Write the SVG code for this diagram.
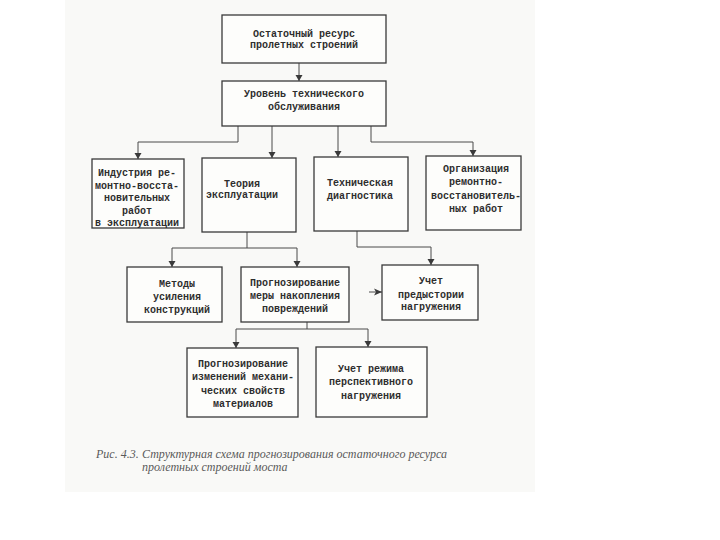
<svg xmlns="http://www.w3.org/2000/svg" width="720" height="540" viewBox="0 0 720 540">
<style>
.box{fill:#fdfdfb;stroke:#3a3a3a;stroke-width:1.3}
.t{font-family:"Liberation Mono","DejaVu Sans Mono",monospace;font-size:10px;font-weight:bold;fill:#2e2e2e;text-anchor:middle}
.c{fill:none;stroke:#4a4a4a;stroke-width:1}
.cap{font-family:"Liberation Serif","DejaVu Serif",serif;font-style:italic;font-size:12px;fill:#5a5a5a}
</style>
<defs>
<marker id="ah" markerUnits="userSpaceOnUse" markerWidth="8" markerHeight="8" viewBox="0 0 8 8" refX="7.5" refY="4" orient="auto">
<path d="M1.5 0.5 L7.5 4 L1.5 7.5 Z" fill="#3a3a3a"/>
</marker>
<marker id="ahr" markerUnits="userSpaceOnUse" markerWidth="10" markerHeight="8" viewBox="0 0 10 8" refX="9" refY="4" orient="auto">
<path d="M1 0.5 L9 4 L1 7.5 L3 4 Z" fill="#3a3a3a"/>
</marker>
</defs>
<rect x="65" y="0" width="470" height="492" fill="#f9f9f7"/>
<g id="connectors">
<path class="c" d="M299 63 V81" marker-end="url(#ah)"/>
<path class="c" d="M238 126 V142 H138 V159" marker-end="url(#ah)"/>
<path class="c" d="M272 126 V158" marker-end="url(#ah)"/>
<path class="c" d="M338 126 V157" marker-end="url(#ah)"/>
<path class="c" d="M371 126 V142 H473 V156" marker-end="url(#ah)"/>
<path class="c" d="M247 232 V248 H172 V267" marker-end="url(#ah)"/>
<path class="c" d="M247 248 H297 V267" marker-end="url(#ah)"/>
<path class="c" d="M357 231 V247 H431 V265" marker-end="url(#ah)"/>
<path class="c" d="M369 292 H382" marker-end="url(#ahr)"/>
<path class="c" d="M307 322 V329 H236 V348" marker-end="url(#ah)"/>
<path class="c" d="M307 329 H368 V347" marker-end="url(#ah)"/>
</g>
<g id="n1">
<rect class="box" x="222" y="15" width="164" height="48"/>
<text class="t" x="304" y="37">Остаточный ресурс</text>
<text class="t" x="304" y="48">пролетных строений</text>
</g>
<g id="n2">
<rect class="box" x="222" y="81" width="164" height="45"/>
<text class="t" x="304" y="97">Уровень технического</text>
<text class="t" x="304" y="110">обслуживания</text>
</g>
<g id="n3">
<rect class="box" x="92" y="159" width="92" height="69"/>
<text class="t" x="137" y="176">Индустрия ре-</text>
<text class="t" x="137" y="188.5">монтно-восста-</text>
<text class="t" x="137" y="201">новительных</text>
<text class="t" x="137" y="213.5">работ</text>
<text class="t" x="137" y="226">в эксплуатации</text>
</g>
<g id="n4">
<rect class="box" x="202" y="158" width="94" height="74"/>
<text class="t" x="242" y="187">Теория</text>
<text class="t" x="242" y="198">эксплуатации</text>
</g>
<g id="n5">
<rect class="box" x="314" y="157" width="94" height="74"/>
<text class="t" x="360" y="186">Техническая</text>
<text class="t" x="360" y="198.5">диагностика</text>
</g>
<g id="n6">
<rect class="box" x="426" y="156" width="95" height="74"/>
<text class="t" x="476" y="172">Организация</text>
<text class="t" x="476" y="185">ремонтно-</text>
<text class="t" x="476" y="198.5">восстановитель-</text>
<text class="t" x="476" y="212">ных работ</text>
</g>
<g id="n7">
<rect class="box" x="127" y="267" width="95" height="55"/>
<text class="t" x="177" y="287">Методы</text>
<text class="t" x="177" y="300">усиления</text>
<text class="t" x="177" y="313">конструкций</text>
</g>
<g id="n8">
<rect class="box" x="241" y="267" width="108" height="55"/>
<text class="t" x="295" y="286">Прогнозирование</text>
<text class="t" x="295" y="298.5">меры накопления</text>
<text class="t" x="295" y="312">повреждений</text>
</g>
<g id="n9">
<rect class="box" x="382" y="265" width="96" height="55"/>
<text class="t" x="431" y="284">Учет</text>
<text class="t" x="431" y="297.5">предыстории</text>
<text class="t" x="431" y="310">нагружения</text>
</g>
<g id="n10">
<rect class="box" x="187" y="348" width="111" height="69"/>
<text class="t" x="243" y="367">Прогнозирование</text>
<text class="t" x="243" y="380">изменений механи-</text>
<text class="t" x="243" y="393.5">ческих свойств</text>
<text class="t" x="243" y="407">материалов</text>
</g>
<g id="n11">
<rect class="box" x="316" y="347" width="111" height="70"/>
<text class="t" x="371" y="372">Учет режима</text>
<text class="t" x="371" y="385">перспективного</text>
<text class="t" x="371" y="398.5">нагружения</text>
</g>
<g id="caption">
<text class="cap" x="96" y="457.5">Рис. 4.3.</text>
<text class="cap" x="142" y="457.5">Структурная схема прогнозирования остаточного ресурса</text>
<text class="cap" x="142" y="470.5">пролетных строений моста</text>
</g>
</svg>
